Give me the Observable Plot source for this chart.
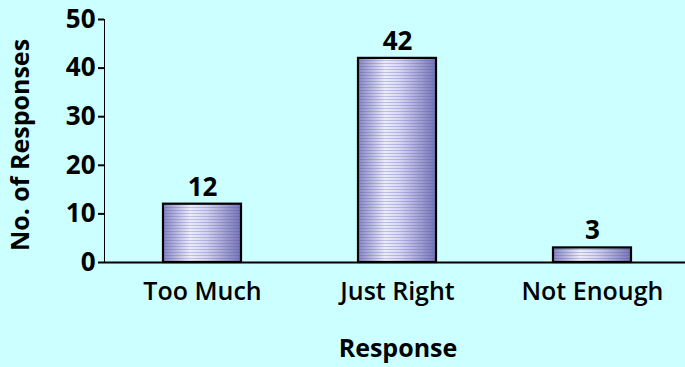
<!DOCTYPE html>
<html>
<head>
<meta charset="utf-8">
<script src="https://cdn.jsdelivr.net/npm/d3@7"></script>
<script src="https://cdn.jsdelivr.net/npm/@observablehq/plot@0.6"></script>
<style>
  html, body { margin: 0; padding: 0; background: #ccffff; }
  #chart svg { display: block; }
</style>
</head>
<body>
<div id="chart"></div>
<script>
const categories = ["Too Much", "Just Right", "Not Enough"];
const responses = [12, 42, 3];
const yTicks = [0, 10, 20, 30, 40, 50];

const data = categories.map((c, i) => ({category: c, value: responses[i]}));
const font = "'Open Sans', sans-serif";

const plot = Plot.plot({
  width: 685,
  height: 367,
  marginTop: 19,
  marginBottom: 105,
  marginLeft: 104,
  marginRight: 0,
  style: {background: "#ccffff", fontFamily: font, fontSize: "26px", fontWeight: 700, color: "#000", overflow: "visible"},
  x: {domain: categories, range: [104, 690], paddingInner: 0.6, paddingOuter: 0.3, label: null, axis: null},
  y: {domain: [0, 50], ticks: yTicks, tickSize: 6, tickPadding: 3, tickFormat: d => String(d), line: true, label: null},
  marks: [
    Plot.barY(data, {x: "category", y: "value", fill: "url(#barGrad)"}),
    Plot.barY(data, {x: "category", y: "value", fill: "url(#barStripes)", stroke: "#000", strokeWidth: 2.2}),
    Plot.text(data, {x: "category", y: "value", text: d => String(d.value), dy: -17, fontSize: 26, fontWeight: 700, fill: "#000"}),
    Plot.ruleY([0], {stroke: "#000", strokeWidth: 2}),
    Plot.axisX({tickSize: 0, tickPadding: 20, fontSize: 25, fontWeight: 600, label: null})
  ]
});

// gradient definitions for the bars' cylinder-like shading
const svg = d3.select(plot);
const defs = svg.insert("defs", ":first-child");
const grad = defs.append("linearGradient").attr("id", "barGrad").attr("x1", "0").attr("x2", "1").attr("y1", "0").attr("y2", "0");
[["0%", "#8484c2"], ["35%", "#ececfc"], ["55%", "#d4d4f2"], ["100%", "#7474b6"]].forEach(([o, c]) =>
  grad.append("stop").attr("offset", o).attr("stop-color", c));
const pat = defs.append("pattern").attr("id", "barStripes").attr("patternUnits", "userSpaceOnUse").attr("width", 4).attr("height", 3);
pat.append("rect").attr("width", 4).attr("height", 1).attr("fill", "#5050a0").attr("fill-opacity", 0.28);

// thicken y-axis line and ticks
svg.selectAll("[aria-label='y-axis tick'], [aria-label='y-axis line']").attr("stroke-width", 2);

// axis titles
svg.append("text")
  .attr("transform", "translate(22,145) rotate(-90)")
  .attr("text-anchor", "middle").attr("dominant-baseline", "middle")
  .attr("font-family", font).attr("font-size", 25).attr("font-weight", 700)
  .text("No. of Responses");
svg.append("text")
  .attr("x", 398).attr("y", 350)
  .attr("text-anchor", "middle").attr("dominant-baseline", "middle")
  .attr("font-family", font).attr("font-size", 25).attr("font-weight", 700)
  .text("Response");

document.getElementById("chart").append(plot);
</script>
</body>
</html>
